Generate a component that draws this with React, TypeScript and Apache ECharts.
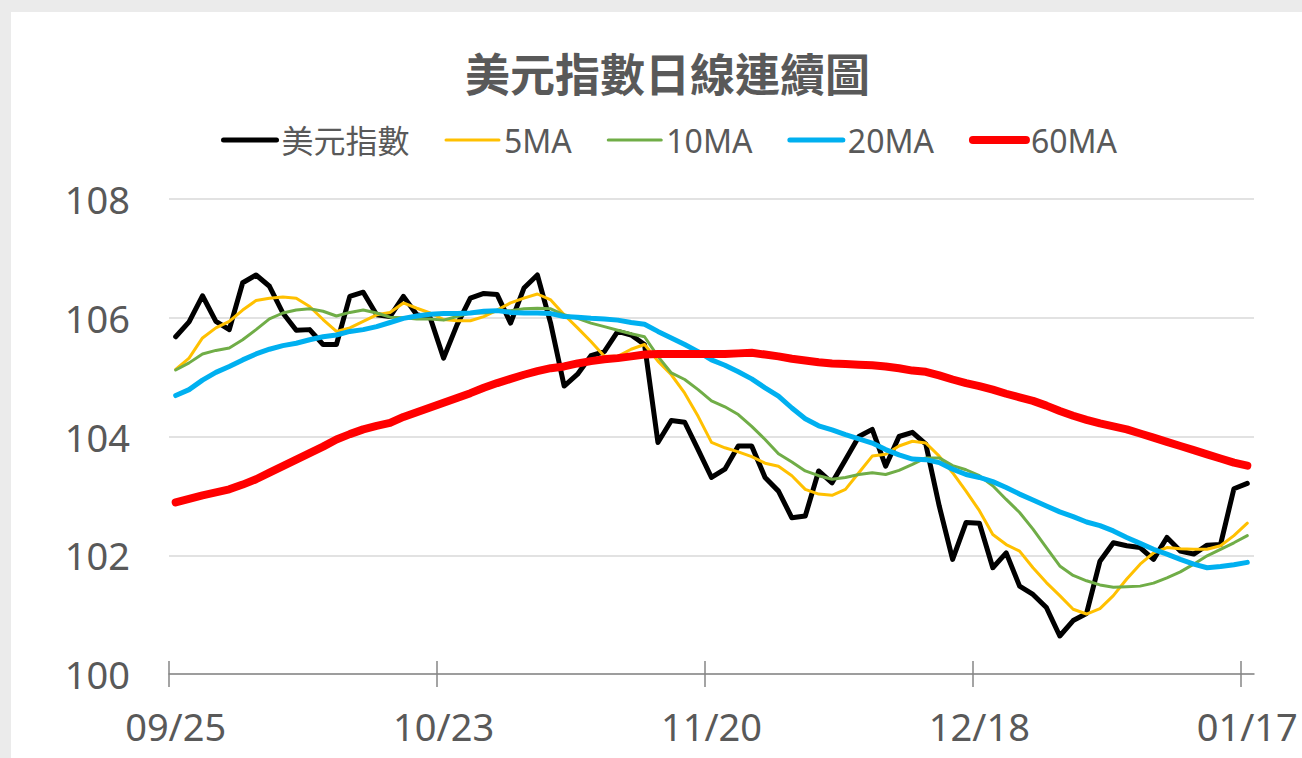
import React, { useEffect, useRef } from "react";
import * as echarts from "echarts";

const dates = [
  "09/25", "09/26", "09/27", "09/28", "09/29",
  "10/02", "10/03", "10/04", "10/05", "10/06",
  "10/09", "10/10", "10/11", "10/12", "10/13",
  "10/16", "10/17", "10/18", "10/19", "10/20",
  "10/23", "10/24", "10/25", "10/26", "10/27",
  "10/30", "10/31", "11/01", "11/02", "11/03",
  "11/06", "11/07", "11/08", "11/09", "11/10",
  "11/13", "11/14", "11/15", "11/16", "11/17",
  "11/20", "11/21", "11/22", "11/23", "11/24",
  "11/27", "11/28", "11/29", "11/30", "12/01",
  "12/04", "12/05", "12/06", "12/07", "12/08",
  "12/11", "12/12", "12/13", "12/14", "12/15",
  "12/18", "12/19", "12/20", "12/21", "12/22",
  "12/26", "12/27", "12/28", "12/29",
  "01/02", "01/03", "01/04", "01/05",
  "01/08", "01/09", "01/10", "01/11", "01/12",
  "01/15", "01/16", "01/17",
];

const dxy = [
  105.68, 105.93, 106.37, 105.94, 105.80, 106.59, 106.72, 106.53, 106.08, 105.79,
  105.80, 105.55, 105.55, 106.36, 106.43, 106.05, 106.02, 106.36, 106.05, 106.00,
  105.32, 105.88, 106.33, 106.41, 106.39, 105.91, 106.50, 106.72, 105.90, 104.85,
  105.05, 105.36, 105.43, 105.77, 105.71, 105.55, 103.90, 104.27, 104.24, 103.78,
  103.31, 103.45, 103.84, 103.84, 103.31, 103.08, 102.63, 102.66, 103.42, 103.22,
  103.61, 104.00, 104.12, 103.50, 104.00, 104.07, 103.87, 102.83, 101.93, 102.55,
  102.54, 101.79, 102.04, 101.48, 101.34, 101.12, 100.64, 100.90, 101.02, 101.90,
  102.21, 102.16, 102.13, 101.93, 102.30, 102.07, 102.02, 102.17, 102.18, 103.12,
  103.21,
];

const ma5 = [
  105.13, 105.32, 105.66, 105.83, 105.94, 106.13, 106.29, 106.33, 106.35, 106.33,
  106.19, 105.97, 105.77, 105.83, 105.94, 106.05, 106.09, 106.25, 106.16, 106.08,
  105.97, 105.95, 105.95, 106.02, 106.13, 106.25, 106.33, 106.40, 106.30, 106.05,
  105.83, 105.60, 105.35, 105.35, 105.47, 105.55, 105.27, 105.04, 104.73, 104.34,
  103.90, 103.81, 103.74, 103.66, 103.55, 103.50, 103.34, 103.11, 103.03, 103.01,
  103.11, 103.39, 103.67, 103.70, 103.84, 103.92, 103.89, 103.67, 103.39, 103.08,
  102.75, 102.35, 102.18, 102.07, 101.79, 101.54, 101.32, 101.09, 101.01, 101.10,
  101.32, 101.60, 101.85, 102.04, 102.13, 102.11, 102.10, 102.10, 102.16, 102.33,
  102.54,
];

const ma10 = [
  105.12, 105.24, 105.39, 105.45, 105.49, 105.63, 105.80, 105.98, 106.08, 106.13,
  106.15, 106.11, 106.03, 106.09, 106.13, 106.08, 106.01, 106.00, 105.98, 105.98,
  105.96, 106.02, 106.08, 106.08, 106.11, 106.12, 106.15, 106.16, 106.15, 106.05,
  105.99, 105.91, 105.85, 105.79, 105.73, 105.68, 105.35, 105.07, 104.96, 104.79,
  104.60, 104.50, 104.37, 104.17, 103.95, 103.71, 103.57, 103.42, 103.34, 103.28,
  103.31, 103.36, 103.39, 103.36, 103.43, 103.53, 103.64, 103.64, 103.51, 103.44,
  103.34, 103.17, 102.94, 102.72, 102.44, 102.13, 101.82, 101.66, 101.57, 101.50,
  101.46, 101.47, 101.48, 101.53, 101.62, 101.72, 101.85, 101.99, 102.10, 102.21,
  102.33,
];

const ma20 = [
  104.69, 104.79, 104.95, 105.08, 105.18, 105.29, 105.39, 105.47, 105.53, 105.57,
  105.63, 105.68, 105.71, 105.77, 105.80, 105.85, 105.92, 105.99, 106.03, 106.06,
  106.07, 106.07, 106.08, 106.11, 106.12, 106.09, 106.08, 106.08, 106.07, 106.02,
  106.01, 105.99, 105.98, 105.96, 105.92, 105.89, 105.77, 105.66, 105.55, 105.43,
  105.29, 105.20, 105.09, 104.97, 104.82, 104.68, 104.48, 104.30, 104.18, 104.11,
  104.03, 103.96, 103.89, 103.78, 103.69, 103.62, 103.61, 103.56, 103.45, 103.36,
  103.31, 103.24, 103.14, 103.03, 102.93, 102.83, 102.73, 102.65, 102.56, 102.50,
  102.41, 102.30, 102.20, 102.10, 102.02, 101.93, 101.85, 101.79, 101.81, 101.84,
  101.88,
];

const ma60 = [
  102.89, 102.95, 103.01, 103.06, 103.11, 103.19, 103.28, 103.39, 103.50, 103.61,
  103.72, 103.83, 103.95, 104.04, 104.12, 104.18, 104.23, 104.33, 104.41, 104.49,
  104.57, 104.65, 104.73, 104.82, 104.90, 104.97, 105.04, 105.10, 105.15, 105.18,
  105.23, 105.27, 105.30, 105.32, 105.35, 105.38, 105.39, 105.39, 105.39, 105.39,
  105.39, 105.39, 105.40, 105.41, 105.38, 105.35, 105.31, 105.28, 105.25, 105.23,
  105.22, 105.21, 105.20, 105.18, 105.15, 105.11, 105.09, 105.03, 104.96, 104.90,
  104.85, 104.79, 104.72, 104.66, 104.60, 104.52, 104.43, 104.35, 104.28, 104.22,
  104.17, 104.12, 104.05, 103.98, 103.91, 103.84, 103.77, 103.70, 103.63, 103.56,
  103.51,
];

const seriesNames = ["美元指數", "5MA", "10MA", "20MA", "60MA"];
const seriesData = [dxy, ma5, ma10, ma20, ma60];
const seriesColors = ["#000000", "#FFC000", "#70AD47", "#00B0F0", "#FF0000"];
const seriesWidths = [5, 3, 3, 5, 8];

const FONT = "'Noto Sans', 'Noto Sans CJK TC', sans-serif";
const TEXT_COLOR = "#595959";
const AXIS_COLOR = "#868686";

export default function App() {
  const ref = useRef<HTMLDivElement>(null);

  useEffect(() => {
    if (!ref.current) return;
    const chart = echarts.init(ref.current, null, { renderer: "svg" });
    const tickAxis = (inside: boolean) => ({
      type: "value",
      gridIndex: 1,
      position: "bottom",
      min: 0,
      max: 80,
      interval: 20,
      axisLine: { show: false },
      axisLabel: { show: false },
      splitLine: { show: false },
      axisTick: {
        show: true,
        inside,
        length: 13,
        lineStyle: { color: AXIS_COLOR, width: 1.5 },
      },
    });
    chart.setOption({
      animation: false,
      backgroundColor: "#ffffff",
      title: {
        text: "美元指數日線連續圖",
        left: 449,
        top: 33,
        textStyle: {
          fontSize: 45,
          fontWeight: "bold",
          color: TEXT_COLOR,
          fontFamily: "'Noto Sans CJK TC', sans-serif",
        },
      },
      legend: {
        data: seriesNames.map((name, i) => ({
          name,
          lineStyle: { width: seriesWidths[i], color: seriesColors[i], cap: "round" },
        })),
        left: 205,
        top: 107,
        itemWidth: 53,
        itemHeight: 14,
        itemGap: 35,
        itemStyle: { opacity: 0 },
        lineStyle: { width: "inherit" },
        textStyle: { fontSize: 32, color: TEXT_COLOR, fontFamily: FONT },
      },
      grid: [
        { left: 158, right: 48, top: 187, bottom: 84, containLabel: false },
        { left: 158, right: 48 + 1085 / 81, top: 187, bottom: 84, containLabel: false },
      ],
      xAxis: [
        {
          type: "category",
          gridIndex: 0,
          data: dates,
          boundaryGap: true,
          axisLine: { show: true, lineStyle: { color: AXIS_COLOR, width: 1.5 } },
          axisTick: { show: false },
          axisLabel: {
            interval: 19,
            margin: 33,
            fontSize: 38,
            color: TEXT_COLOR,
            fontFamily: FONT,
          },
          splitLine: { show: false },
        },
        tickAxis(false),
        tickAxis(true),
      ],
      yAxis: [
        {
          type: "value",
          gridIndex: 0,
          min: 100,
          max: 108,
          interval: 2,
          axisLine: { show: false },
          axisTick: { show: false },
          axisLabel: { margin: 39, fontSize: 38, color: TEXT_COLOR, fontFamily: FONT },
          splitLine: { lineStyle: { color: "#d9d9d9", width: 1.5 } },
        },
        { type: "value", gridIndex: 1, show: false, min: 0, max: 1 },
      ],
      series: seriesNames.map((name, i) => ({
        name,
        type: "line",
        xAxisIndex: 0,
        yAxisIndex: 0,
        data: seriesData[i],
        symbol: "none",
        smooth: false,
        itemStyle: { color: seriesColors[i] },
        lineStyle: { color: seriesColors[i], width: seriesWidths[i], cap: "round", join: "round" },
      })),
    });
    return () => chart.dispose();
  }, []);

  return (
    <div
      style={{
        position: "fixed",
        left: 0,
        top: 0,
        width: 1302,
        height: 758,
        background: "#ebebeb",
        overflow: "hidden",
      }}
    >
      <div
        ref={ref}
        style={{ position: "absolute", left: 11, top: 12, width: 1291, height: 746, background: "#ffffff" }}
      />
    </div>
  );
}
